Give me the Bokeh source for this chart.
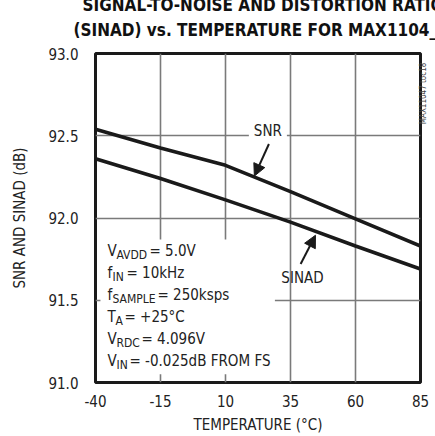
import math
from bokeh.plotting import figure
from bokeh.models import (Range1d, Label, Arrow, NormalHead, ColumnDataSource,
                          PrintfTickFormatter, Title, LinearAxis, FixedTicker)
from bokeh.embed import file_html
from bokeh.resources import INLINE
from bokeh.core.properties import value

# ---- data ----
temps = [-40, -15, 10, 35, 60, 85]
snr = [92.54, 92.425, 92.32, 92.16, 91.995, 91.83]
sinad = [92.36, 92.24, 92.11, 91.975, 91.83, 91.69]
x_ticks = [-40, -15, 10, 35, 60, 85]
y_ticks = [91.0, 91.5, 92.0, 92.5, 93.0]

title_lines = ["SIGNAL-TO-NOISE AND DISTORTION RATIO",
               "(SINAD) vs. TEMPERATURE FOR MAX1104_"]
x_label = "TEMPERATURE (°C)"
y_label = "SNR AND SINAD (dB)"
watermark = "MAX11047 toc18"

# conditions text: (main symbol, subscript, rest)
cond_main = ["V", "f", "f", "T", "V", "V"]
cond_sub = ["AVDD", "IN", "SAMPLE", "A", "RDC", "IN"]
cond_rest = ["= 5.0V", "= 10kHz", "= 250ksps", "= +25°C", "= 4.096V",
             "= -0.025dB FROM FS"]

FONT = "DejaVu Sans Condensed"
INK = "#1a1a1a"
TXT = "#222222"

p = figure(width=435, height=436, x_range=Range1d(-40, 85), y_range=Range1d(91, 93),
           output_backend="svg", toolbar_location=None, title=None,
           min_border_left=95, min_border_right=12, min_border_top=53,
           min_border_bottom=54)
p.background_fill_color = "white"
p.border_fill_color = "white"
p.outline_line_color = INK
p.outline_line_width = 3

for ax in (p.xaxis[0], p.yaxis[0]):
    ax.axis_line_color = None
    ax.major_tick_line_color = None
    ax.minor_tick_line_color = None
    ax.major_tick_out = 0
    ax.major_tick_in = 0
    ax.minor_tick_out = 0
    ax.minor_tick_in = 0
    ax.major_label_text_font = FONT
    ax.major_label_text_font_size = "15px"
    ax.major_label_text_color = TXT
    ax.axis_label_text_font = FONT
    ax.axis_label_text_font_size = "15px"
    ax.axis_label_text_font_style = "normal"
    ax.axis_label_text_color = TXT
p.xaxis.ticker = x_ticks
p.yaxis.ticker = y_ticks
p.xaxis.formatter = PrintfTickFormatter(format="%d")
p.yaxis.formatter = PrintfTickFormatter(format="%.1f")
p.xaxis.major_label_standoff = 12
p.yaxis.major_label_standoff = 17
p.yaxis.axis_label = y_label
p.yaxis.axis_label_standoff = 16
p.xaxis.axis_label = x_label
p.xaxis.axis_label_standoff = 6

# side note (chart id) as the label of a bare right axis
note_pos = 92.57
side = LinearAxis(ticker=FixedTicker(ticks=[note_pos]),
                  major_label_overrides={note_pos: watermark},
                  major_label_orientation=math.pi / 2,
                  major_label_standoff=3,
                  major_label_text_font=FONT, major_label_text_font_size="8px",
                  major_label_text_color="#444444",
                  axis_line_color=None, major_tick_line_color=None,
                  minor_tick_line_color=None, major_tick_out=0, major_tick_in=0,
                  minor_tick_out=0, minor_tick_in=0)
p.add_layout(side, "right")

p.xgrid.ticker = x_ticks
p.ygrid.ticker = y_ticks
for g in (p.xgrid[0], p.ygrid[0]):
    g.grid_line_color = "#7a7a7a"
    g.grid_line_width = 1.6

# chart title (two lines; the first is cropped at the top as in the source)
t2 = Title(text=title_lines[1], align="left", vertical_align="top", offset=-22,
           standoff=24, text_font=FONT, text_font_size="17px",
           text_font_style="bold", text_color="#111111")
t1 = Title(text=title_lines[0], align="left", vertical_align="bottom", offset=-13,
           standoff=-15, text_font=FONT, text_font_size="17px",
           text_font_style="bold", text_color="#111111")
p.add_layout(t2, "above")
p.add_layout(t1, "above")

# white box behind conditions
box_l, box_r, box_b, box_t = -38.1, 29.0, 91.05, 91.87
p.quad(left=[box_l], right=[box_r], bottom=[box_b], top=[box_t],
       fill_color="white", line_color=None)

p.line(temps, snr, line_width=3.6, line_color=INK)
p.line(temps, sinad, line_width=3.6, line_color=INK)

# curve labels and arrows
p.add_layout(Label(x=26.3, y=92.53, text="SNR", text_align="center",
                   text_baseline="middle", text_font=FONT, text_font_size="15px",
                   text_color=TXT, background_fill_color="white", padding=5))
p.add_layout(Label(x=39.6, y=91.635, text="SINAD", text_align="center",
                   text_baseline="middle", text_font=FONT, text_font_size="15px",
                   text_color=TXT))
p.add_layout(Arrow(end=NormalHead(size=12, fill_color=INK, line_color=INK),
                   x_start=26.7, y_start=92.45, x_end=21.1, y_end=92.255,
                   line_color=INK, line_width=2))
p.add_layout(Arrow(end=NormalHead(size=12, fill_color=INK, line_color=INK),
                   x_start=38.9, y_start=91.72, x_end=44.6, y_end=91.895,
                   line_color=INK, line_width=2))

# conditions text
line_y0, line_step = 91.80, 0.134
ys = [line_y0 - i * line_step for i in range(len(cond_main))]
main_off = [12, 12, 12, 12, 12, 12]
sub_off = [21, 17, 17, 20, 21, 21]
rest_off = [54, 31, 62, 29, 46, 34]
src_main = ColumnDataSource(dict(x=[-40] * 6, y=ys, t=cond_main, o=main_off))
src_sub = ColumnDataSource(dict(x=[-40] * 6, y=ys, t=cond_sub, o=sub_off))
src_rest = ColumnDataSource(dict(x=[-40] * 6, y=ys, t=cond_rest, o=rest_off))
for src, size, dy in ((src_main, "15px", 0), (src_rest, "15px", 0), (src_sub, "12px", 4)):
    p.text(x="x", y="y", text="t", x_offset="o", y_offset=dy, source=src,
           text_font=value(FONT), text_font_size=value(size), text_color=TXT,
           text_align="left", text_baseline="middle")

open("out.html", "w").write(file_html(p, INLINE))
